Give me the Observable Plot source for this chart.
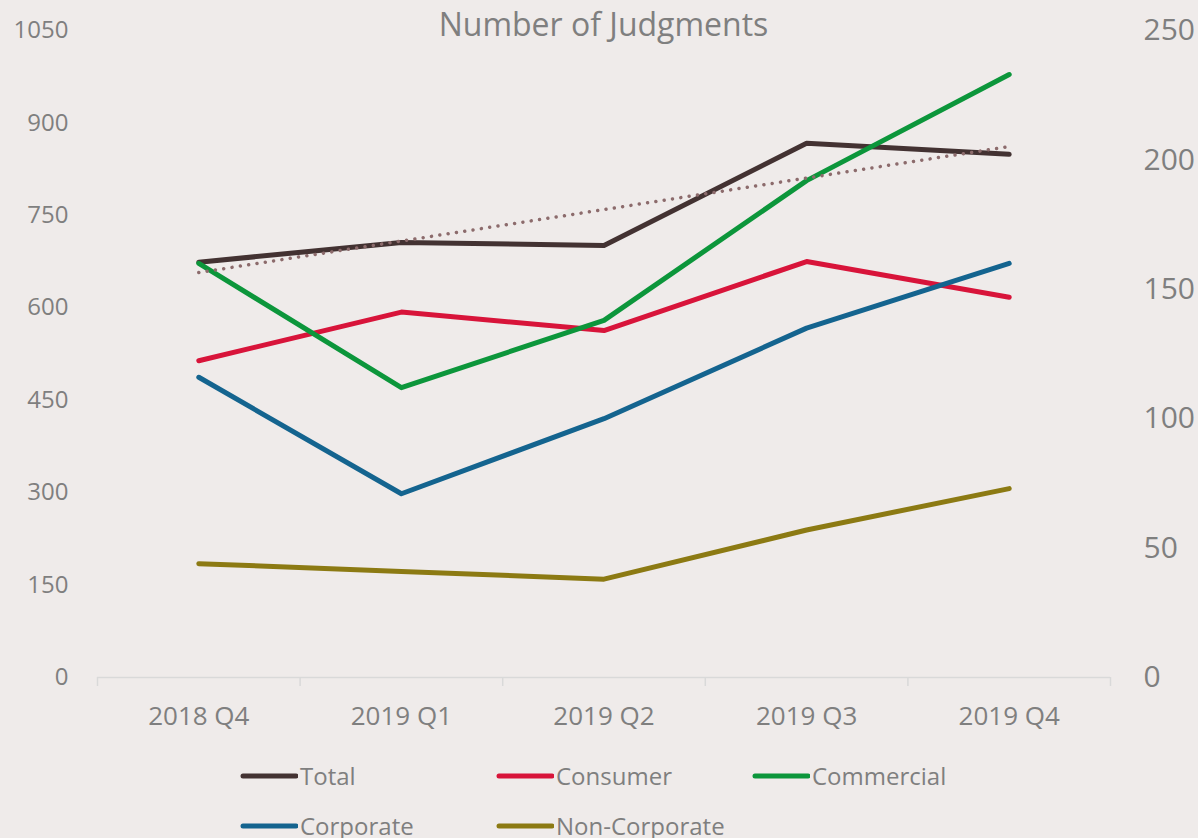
<!DOCTYPE html>
<html>
<head>
<meta charset="utf-8">
<script src="https://cdn.jsdelivr.net/npm/d3@7"></script>
<script src="https://cdn.jsdelivr.net/npm/@observablehq/plot@0.6"></script>
<style>
  html, body { margin: 0; padding: 0; background: #efebea; }
  #wrap { position: relative; width: 1198px; height: 838px; font-family: "Open Sans", sans-serif; color: #7f7f7f; overflow: hidden; }
  #title { position: absolute; left: 97px; width: 1013px; top: 4px; text-align: center; font-size: 32px; line-height: 40px; }
  #chart { position: absolute; left: 0; top: 0; }
  .leg { position: absolute; display: flex; align-items: center; font-size: 24px; line-height: 24px; height: 24px; white-space: nowrap; }
  .leg svg { margin-right: 2px; }
</style>
</head>
<body>
<div id="wrap">
  <div id="chart"></div>
  <div id="title">Number of Judgments</div>
  <div id="legend"></div>
</div>
<script>
// ---- data ----
const quarters = ["2018 Q4", "2019 Q1", "2019 Q2", "2019 Q3", "2019 Q4"];
const total = [674, 706, 701, 867, 849];          // left axis
const consumer = [514, 593, 563, 675, 617];        // left axis
const commercial = [160, 112, 138, 192, 233];      // right axis
const corporate = [116, 71, 100, 135, 160];        // right axis
const nonCorporate = [44, 41, 38, 57, 73];         // right axis
const leftTicks = [0, 150, 300, 450, 600, 750, 900, 1050];
const rightTicks = [0, 50, 100, 150, 200, 250];
const seriesNames = ["Total", "Consumer", "Commercial", "Corporate", "Non-Corporate"];
const seriesColors = ["#433232", "#d8143a", "#0c963b", "#14648f", "#8c7a13"];
const trendColor = "#8c6b6c";

// ---- layout ----
const W = 1198, H = 740;
const mL = 97, mR = 88, mT = 30, mB = 63;
const leftMax = 1050, rightMax = 250, k = leftMax / rightMax;
const textColor = "#7f7f7f";

const rows = quarters.map((q, i) => ({
  i, quarter: q,
  total: total[i], consumer: consumer[i],
  commercial: commercial[i], corporate: corporate[i], nonCorporate: nonCorporate[i]
}));
const boundaries = quarters.map((q, i) => i - 0.5).concat([quarters.length - 0.5]);

const lineOpts = {strokeWidth: 5, strokeLinejoin: "round", strokeLinecap: "round"};

const chart = Plot.plot({
  width: W, height: H,
  marginLeft: mL, marginRight: mR, marginTop: mT, marginBottom: mB,
  style: {background: "transparent", fontFamily: "Open Sans, sans-serif", overflow: "visible"},
  x: {type: "linear", domain: [-0.5, quarters.length - 0.5]},
  y: {domain: [0, leftMax]},
  marks: [
    Plot.ruleY([0], {stroke: "#d9d9d9", strokeWidth: 1.5}),
    Plot.axisX({ticks: boundaries, tickSize: 9, stroke: "#d9d9d9", strokeWidth: 1.5, tickFormat: () => "", label: null}),
    Plot.axisX({ticks: quarters.map((q, i) => i), tickSize: 0, tickPadding: 29, tickFormat: (d) => quarters[d], fontSize: 26, fill: textColor, label: null}),
    Plot.axisY({ticks: leftTicks, tickSize: 0, tickPadding: 29, fontSize: 24, fill: textColor, label: null, tickFormat: (d) => String(d)}),
    Plot.axisY({anchor: "right", ticks: rightTicks.map(v => v * k), tickSize: 0, tickPadding: 33, fontSize: 30, fill: textColor, label: null, tickFormat: (d) => String(Math.round(d / k))}),
    Plot.line(rows, {x: "i", y: "total", stroke: seriesColors[0], ...lineOpts}),
    Plot.line(rows, {x: "i", y: "consumer", stroke: seriesColors[1], ...lineOpts}),
    Plot.line(rows, {x: "i", y: (d) => d.commercial * k, stroke: seriesColors[2], ...lineOpts}),
    Plot.line(rows, {x: "i", y: (d) => d.corporate * k, stroke: seriesColors[3], ...lineOpts}),
    Plot.line(rows, {x: "i", y: (d) => d.nonCorporate * k, stroke: seriesColors[4], ...lineOpts}),
    Plot.linearRegressionY(rows, {x: "i", y: "total", ci: 0, stroke: trendColor, strokeWidth: 3.5, strokeLinecap: "round", strokeDasharray: "0.01 8.4"})
  ]
});
document.getElementById("chart").appendChild(chart);

// ---- legend ----
const legendPos = [[240, 764], [496, 764], [752, 764], [240, 814], [496, 814]];
const legend = document.getElementById("legend");
seriesNames.forEach((name, i) => {
  const d = document.createElement("div");
  d.className = "leg";
  d.style.left = legendPos[i][0] + "px";
  d.style.top = legendPos[i][1] + "px";
  d.innerHTML = `<svg width="58" height="10"><line x1="3" y1="5" x2="56" y2="5" stroke="${seriesColors[i]}" stroke-width="5" stroke-linecap="round"/></svg><span>${name}</span>`;
  legend.appendChild(d);
});
</script>
</body>
</html>
